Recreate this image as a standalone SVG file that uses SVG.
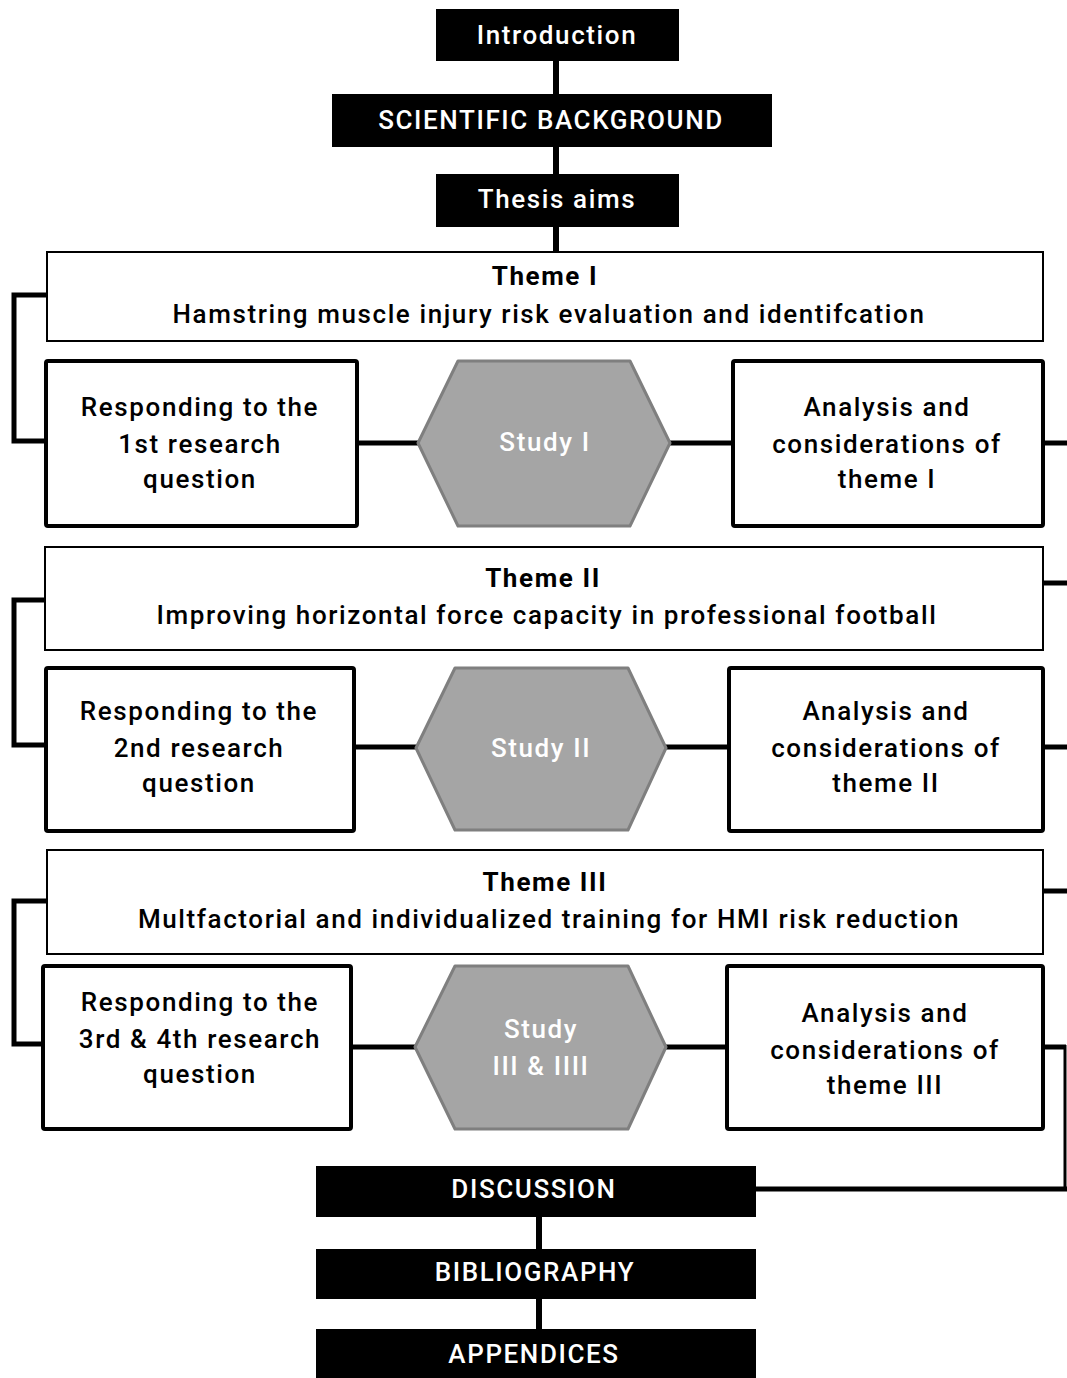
<svg xmlns="http://www.w3.org/2000/svg" width="1067" height="1378" viewBox="0 0 1067 1378">
<style>
text{font-family:Roboto,"Liberation Sans",sans-serif;font-size:26px;font-weight:500;text-anchor:middle;letter-spacing:1.6px}
.wt{fill:#fff;letter-spacing:1.6px}
.b{font-weight:bold}
.blk{fill:#000;stroke:none}
.theme{fill:#fff;stroke:#000;stroke-width:2}
.box{fill:#fff;stroke:#000;stroke-width:4}
.hex{fill:#a5a5a5;stroke:#7f7f7f;stroke-width:3;stroke-linejoin:round}
.ht{fill:#fff}
.c{fill:none;stroke:#000;stroke-width:5}
.cv{fill:none;stroke:#000;stroke-width:6}
.ct{fill:none;stroke:#000;stroke-width:3}
</style>
<rect width="1067" height="1378" fill="#fff"/>
<g id="connectors">
<line class="cv" x1="556" y1="61" x2="556" y2="95"/>
<line class="cv" x1="556" y1="146" x2="556" y2="175"/>
<line class="cv" x1="556" y1="226" x2="556" y2="252"/>
<polyline class="c" points="46,295 14,295 14,441 46,441"/>
<polyline class="c" points="45,600 14,600 14,745 46,745"/>
<polyline class="c" points="47,901 14,901 14,1044 43,1044"/>
<line class="c" x1="357" y1="443" x2="419" y2="443"/>
<line class="c" x1="669" y1="443" x2="733" y2="443"/>
<line class="c" x1="1043" y1="443" x2="1067" y2="443"/>
<line class="c" x1="1039" y1="583" x2="1067" y2="583"/>
<line class="c" x1="354" y1="747" x2="417" y2="747"/>
<line class="c" x1="665" y1="747" x2="729" y2="747"/>
<line class="c" x1="1043" y1="747" x2="1067" y2="747"/>
<line class="c" x1="1039" y1="891" x2="1067" y2="891"/>
<line class="c" x1="351" y1="1047" x2="416" y2="1047"/>
<line class="c" x1="665" y1="1047" x2="727" y2="1047"/>
<line class="c" x1="1043" y1="1047" x2="1066" y2="1047"/>
<line class="ct" x1="1065" y1="1045" x2="1065" y2="1191"/>
<line class="c" x1="756" y1="1189" x2="1067" y2="1189"/>
<line class="cv" x1="539" y1="1216" x2="539" y2="1250"/>
<line class="cv" x1="539" y1="1298" x2="539" y2="1330"/>
</g>
<g id="introduction">
<rect class="blk" x="436" y="9" width="243" height="52"/>
<text class="wt" x="557" y="44">Introduction</text>
</g>
<g id="scientific-background">
<rect class="blk" x="332" y="94" width="440" height="53"/>
<text class="wt" x="551" y="129">SCIENTIFIC BACKGROUND</text>
</g>
<g id="thesis-aims">
<rect class="blk" x="436" y="174" width="243" height="53"/>
<text class="wt" x="557" y="208">Thesis aims</text>
</g>
<g id="theme-1">
<rect class="theme" x="47" y="252" width="996" height="89"/>
<text class="b" x="545" y="285">Theme I</text>
<text x="549" y="323">Hamstring muscle injury risk evaluation and identifcation</text>
</g>
<g id="respond-1">
<rect class="box" x="46" y="361" width="311" height="165" rx="2"/>
<text x="200" y="416">Responding to the</text>
<text x="200" y="453">1st research</text>
<text x="200" y="488">question</text>
</g>
<g id="study-1">
<polygon class="hex" points="418,443 458,361 630,361 670,443 630,526 458,526"/>
<text class="ht" x="545" y="451">Study I</text>
</g>
<g id="analysis-1">
<rect class="box" x="733" y="361" width="310" height="165" rx="2"/>
<text x="887" y="416">Analysis and</text>
<text x="887" y="453">considerations of</text>
<text x="887" y="488">theme I</text>
</g>
<g id="theme-2">
<rect class="theme" x="45" y="547" width="998" height="103"/>
<text class="b" x="543" y="587">Theme II</text>
<text x="547" y="624">Improving horizontal force capacity in professional football</text>
</g>
<g id="respond-2">
<rect class="box" x="46" y="668" width="308" height="163" rx="2"/>
<text x="199" y="720">Responding to the</text>
<text x="199" y="757">2nd research</text>
<text x="199" y="792">question</text>
</g>
<g id="study-2">
<polygon class="hex" points="416,748 455,668 628,668 666,748 628,830 455,830"/>
<text class="ht" x="541" y="757">Study II</text>
</g>
<g id="analysis-2">
<rect class="box" x="729" y="668" width="314" height="163" rx="2"/>
<text x="886" y="720">Analysis and</text>
<text x="886" y="757">considerations of</text>
<text x="886" y="792">theme II</text>
</g>
<g id="theme-3">
<rect class="theme" x="47" y="850" width="996" height="104"/>
<text class="b" x="545" y="891">Theme III</text>
<text x="549" y="928">Multfactorial and individualized training for HMI risk reduction</text>
</g>
<g id="respond-3">
<rect class="box" x="43" y="966" width="308" height="163" rx="2"/>
<text x="200" y="1011">Responding to the</text>
<text x="200" y="1048">3rd &amp; 4th research</text>
<text x="200" y="1083">question</text>
</g>
<g id="study-3">
<polygon class="hex" points="415,1047 455,966 628,966 666,1047 628,1129 455,1129"/>
<text class="ht" x="541" y="1038">Study</text>
<text class="ht" x="541" y="1075">III &amp; IIII</text>
</g>
<g id="analysis-3">
<rect class="box" x="727" y="966" width="316" height="163" rx="2"/>
<text x="885" y="1022">Analysis and</text>
<text x="885" y="1059">considerations of</text>
<text x="885" y="1094">theme III</text>
</g>
<g id="discussion">
<rect class="blk" x="316" y="1166" width="440" height="51"/>
<text class="wt" x="534" y="1198">DISCUSSION</text>
</g>
<g id="bibliography">
<rect class="blk" x="316" y="1249" width="440" height="50"/>
<text class="wt" x="535" y="1281">BIBLIOGRAPHY</text>
</g>
<g id="appendices">
<rect class="blk" x="316" y="1329" width="440" height="49"/>
<text class="wt" x="534" y="1363">APPENDICES</text>
</g>
</svg>
